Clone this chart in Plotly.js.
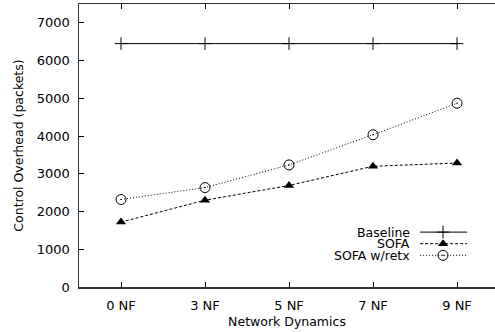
<!DOCTYPE html>
<html><head><meta charset="utf-8">
<script src="https://cdn.plot.ly/plotly-3.0.1.min.js"></script>
<style>html,body{margin:0;padding:0;overflow:hidden;background:#fff;}#chart{width:495px;height:332px;}</style>
</head><body><div id="chart"></div>
<script>
const categories = ["0 NF", "3 NF", "5 NF", "7 NF", "9 NF"];
const seriesNames = ["Baseline", "SOFA", "SOFA w/retx"];
const baseline = [6450, 6450, 6450, 6450, 6450];
const sofa = [1720, 2300, 2690, 3200, 3285];
const sofaRetx = [2320, 2635, 3235, 4035, 4870];
const yTicks = [0, 1000, 2000, 3000, 4000, 5000, 6000, 7000];

const xs = categories.map((c, i) => i);
const FAM = "DejaVu Sans, Liberation Sans, Arial, sans-serif";
const xRange = [-0.5, 4.452];
const yRange = [0, 7500];

const styles = [
  {line: {color: "#000", width: 1, dash: "solid"},
   marker: {symbol: "cross-thin-open", size: 9, color: "#000", line: {color: "#000", width: 1}}},
  {line: {color: "#000", width: 1, dash: "3px,2px"},
   marker: {symbol: "triangle-up", size: 9, color: "#000"}},
  {line: {color: "#000", width: 1, dash: "1px,2px"},
   marker: {symbol: "circle-open-dot", size: 10, color: "#000", line: {color: "#000", width: 1}}}
];
const seriesData = [baseline, sofa, sofaRetx];

const traces = seriesData.map((ys, k) => ({
  x: xs, y: ys, name: seriesNames[k], mode: "lines+markers",
  line: styles[k].line, marker: styles[k].marker, showlegend: false
}));

// custom legend (text right-aligned, sample to the right); positions as plot-area fractions
const legRowsF = [0.194, 0.153, 0.112];
const legLineF = [0.820, 0.933];
const legMarkF = 0.875;
const legTextF = 0.798;
const fx = f => xRange[0] + f * (xRange[1] - xRange[0]);
const fy = f => yRange[0] + f * (yRange[1] - yRange[0]);
seriesNames.forEach((n, k) => {
  traces.push({x: legLineF.map(fx), y: [fy(legRowsF[k]), fy(legRowsF[k])],
    mode: "lines", line: styles[k].line, showlegend: false, hoverinfo: "skip"});
  traces.push({x: [fx(legMarkF)], y: [fy(legRowsF[k])],
    mode: "markers", marker: styles[k].marker, showlegend: false, hoverinfo: "skip"});
});
const annotations = seriesNames.map((n, k) => ({
  text: n, xref: "paper", yref: "paper", x: legTextF, y: legRowsF[k],
  xanchor: "right", yanchor: "middle", showarrow: false, borderpad: 0,
  font: {family: FAM, size: 12.5, color: "#000"}
}));

const layout = {
  width: 495, height: 332,
  margin: {l: 79, r: 0, t: 4, b: 45},
  paper_bgcolor: "#fff", plot_bgcolor: "#fff",
  font: {family: FAM, size: 13, color: "#000"},
  showlegend: false,
  annotations: annotations,
  xaxis: {range: xRange, tickmode: "array", tickvals: xs, ticktext: categories,
          ticks: "inside", ticklen: 5, tickcolor: "#000", showgrid: false, zeroline: false,
          showline: true, linecolor: "#333", linewidth: 1.5, mirror: "ticks",
          ticklabelstandoff: 6, tickfont: {size: 13},
          title: {text: "Network Dynamics", font: {size: 12.5}, standoff: 5}},
  yaxis: {range: yRange, tickmode: "array", tickvals: yTicks,
          ticks: "inside", ticklen: 5, tickcolor: "#000", showgrid: false, zeroline: false,
          showline: true, linecolor: "#333", linewidth: 1.5, mirror: false,
          ticklabelstandoff: 5, tickfont: {size: 13},
          title: {text: "Control Overhead (packets)", font: {size: 12.5}, standoff: 10}},
  yaxis2: {overlaying: "y", side: "right", anchor: "x", range: yRange, tickmode: "array", tickvals: yTicks,
           ticks: "inside", ticklen: 4, tickcolor: "#000", showticklabels: false,
           showgrid: false, zeroline: false, showline: false, mirror: false}
};

Plotly.newPlot("chart", traces, layout, {staticPlot: true, displayModeBar: false});
</script></body></html>
